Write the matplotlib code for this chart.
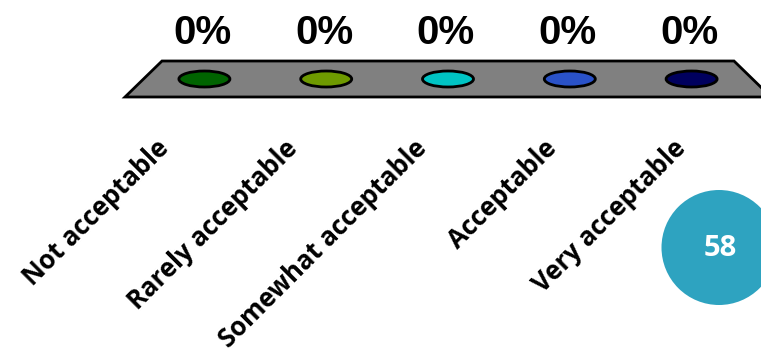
import matplotlib
matplotlib.use("Agg")
import matplotlib.pyplot as plt
from matplotlib.patches import Polygon, Ellipse, Circle, Rectangle

categories = ["Not acceptable", "Rarely acceptable", "Somewhat acceptable",
              "Acceptable", "Very acceptable"]
values = [0, 0, 0, 0, 0]  # percent
bar_colors = ["#006400", "#6e9a00", "#00c4c4", "#2a52c8", "#00005e"]
slide_number = "58"

W, H = 761, 352
fig = plt.figure(figsize=(W / 100, H / 100), dpi=100)
ax = fig.add_axes([0, 0, 1, 1])
ax.set_xlim(0, W)
ax.set_ylim(H, 0)
ax.axis("off")

# 3-D floor (pixel layout)
top_y, bot_y = 61, 97
top_l, top_r = 162, 734
bot_l, bot_r = 125, 771
ax.add_patch(Polygon([(top_l, top_y), (top_r, top_y), (bot_r, bot_y), (bot_l, bot_y)],
                     closed=True, facecolor="#808080", edgecolor="black", lw=2, zorder=1))

n = len(categories)
mid_y = (top_y + bot_y) / 2
mid_l = (top_l + bot_l) / 2
mid_r = (top_r + bot_r) / 2
slot = (mid_r - mid_l) / n
bot_slot = (bot_r - bot_l) / n
bar_h_scale = 2.0  # px per percent
ew, eh = 51, 16

for i, (cat, v, c) in enumerate(zip(categories, values, bar_colors)):
    cx = mid_l + slot * (i + 0.5)
    h = v * bar_h_scale
    if h > 0:
        ax.add_patch(Rectangle((cx - ew / 2, mid_y - h), ew, h, facecolor=c,
                               edgecolor="black", lw=1.5, zorder=2))
        ax.add_patch(Ellipse((cx, mid_y), ew, eh, facecolor=c, edgecolor="black",
                             lw=1.5, zorder=2))
    ax.add_patch(Ellipse((cx, mid_y - h), ew, eh, facecolor=c, edgecolor="black",
                         lw=2, zorder=3))
    ax.text(cx - 2, 33 - h, f"{v:.0f}%", ha="center", va="center",
            fontsize=29, fontweight="bold", family="Liberation Sans", zorder=4)
    lx = bot_l + bot_slot * (i + 0.5) - 25
    ax.text(lx, 144, cat, rotation=45, rotation_mode="anchor", ha="right",
            va="center", fontsize=18.5, fontweight="bold", family="Open Sans")

# slide number badge
ax.add_patch(Circle((719, 247.5), 57.5, facecolor="#2ea3c0", edgecolor="none", zorder=5))
ax.text(720, 249, slide_number, ha="center", va="center", color="white",
        fontsize=21, fontweight="bold", family="Open Sans", zorder=6)

fig.savefig("out.png", dpi=100)
